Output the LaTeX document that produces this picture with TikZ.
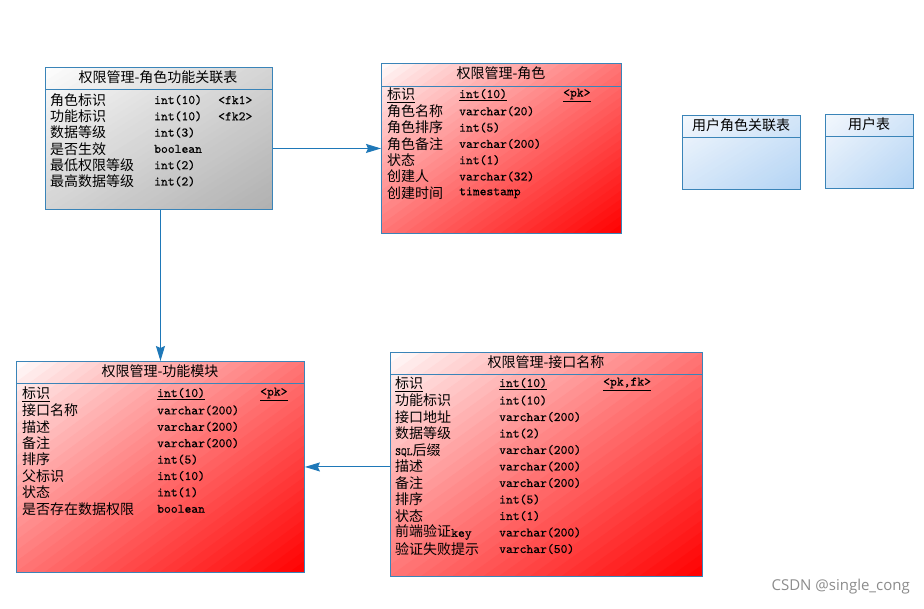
\documentclass[tikz,border=0pt]{standalone}
\usepackage{fontspec}
\setmainfont{Noto Sans CJK SC}
\newfontfamily\wmfont{Open Sans}
\newfontfamily\typefont{lmmono10-regular.otf}[FakeBold=0.4]
\usetikzlibrary{arrows.meta}
\definecolor{bord}{HTML}{3A84B8}
\definecolor{arr}{HTML}{1E78B8}
\definecolor{grayend}{HTML}{B0B0B0}
\definecolor{blueend}{HTML}{B4D4F4}
\definecolor{bluestart}{HTML}{F4F8FD}
\definecolor{redend}{HTML}{FF0000}
% diagonal gradient: x0, y0, w, h, start colour, end colour, exponent
\newcommand\gradrect[7]{%
  \begin{scope}
    \clip (#1,#2) rectangle ++(#3,#4);
    \foreach \k in {0,...,39}{
      \pgfmathsetmacro\ta{\k/40}
      \pgfmathsetmacro\tb{(\k+1.3)/40}
      \pgfmathsetmacro\f{100*((\k+0.5)/40)^#7}
      \fill[#6!\f!#5] ({#1+2*\ta*#3},#2) -- (#1,{#2+2*\ta*#4}) -- (#1,{#2+2*\tb*#4}) -- ({#1+2*\tb*#3},#2) -- cycle;
    }
  \end{scope}}
\tikzset{
  tbl/.style={draw=bord, line width=0.9pt, rectangle, inner sep=0pt, anchor=north west},
  hline/.style={draw=bord, line width=0.9pt},
  title/.style={inner sep=0pt, font=\fontsize{14}{16}\selectfont},
  cname/.style={anchor=west, inner sep=0pt, font=\fontsize{14}{16}\selectfont},
  ctype/.style={anchor=west, inner sep=0pt, font=\fontsize{13}{15}\selectfont\typefont},
  conn/.style={draw=arr, line width=1pt, -{Stealth[length=15pt,width=9pt,inset=2pt]}},
}
\begin{document}
\begin{tikzpicture}[x=1pt,y=-1pt]
\useasboundingbox (0,0) rectangle (924,608);
\fill[white] (0,0) rectangle (924,608);

% Table 1: 角色功能关联表
\gradrect{45}{67}{227}{142}{white}{grayend}{0.9}
\node[tbl, minimum width=227pt, minimum height=142pt] (t1) at (45,67) {};
\draw[hline] ([yshift=-22pt]t1.north west) -- ([yshift=-22pt]t1.north east);
\node[title] (t1t) at (158,77) {权限管理-角色功能关联表};
\foreach \a/\b/\c [count=\i from 0] in {角色标识/int(10)/<fk1>,功能标识/int(10)/<fk2>,数据等级/int(3)/,是否生效/boolean/,最低权限等级/int(2)/,最高数据等级/int(2)/}{
  \node[cname] (t1n\i) at (50,{100+16.3*\i}) {\a};
  \node[ctype] (t1y\i) at (154,{100+16.3*\i}) {\b};
  \node[ctype] (t1k\i) at (218,{100+16.3*\i}) {\c};
}

% Table 2: 角色
\gradrect{381}{63}{240}{170}{white}{redend}{0.9}
\node[tbl, minimum width=240pt, minimum height=170pt] (t2) at (381,63) {};
\draw[hline] ([yshift=-23pt]t2.north west) -- ([yshift=-23pt]t2.north east);
\node[title] (t2t) at (501,73) {权限管理-角色};
\node[cname] (t2n0) at (387,95) {\underline{标识}};
\node[ctype] (t2y0) at (459,95) {\underline{int(10)}};
\node[ctype] (t2k0) at (563,95) {\underline{<pk>}};
\foreach \a/\b [count=\i from 1] in {角色名称/varchar(20),角色排序/int(5),角色备注/varchar(200),状态/int(1),创建人/varchar(32),创建时间/timestamp}{
  \node[cname] (t2n\i) at (387,{95+16.3*\i}) {\a};
  \node[ctype] (t2y\i) at (459,{95+16.3*\i}) {\b};
}

% Table 3: 用户角色关联表
\gradrect{682}{115}{118}{74}{bluestart}{blueend}{1}
\node[tbl, minimum width=118pt, minimum height=74pt] (t3) at (682,115) {};
\draw[hline] ([yshift=-22pt]t3.north west) -- ([yshift=-22pt]t3.north east);
\node[title] (t3t) at (741,125) {用户角色关联表};

% Table 4: 用户表
\gradrect{825}{114}{88}{74}{bluestart}{blueend}{1}
\node[tbl, minimum width=88pt, minimum height=74pt] (t4) at (825,114) {};
\draw[hline] ([yshift=-22pt]t4.north west) -- ([yshift=-22pt]t4.north east);
\node[title] (t4t) at (869,124) {用户表};

% Table 5: 功能模块
\gradrect{16}{361}{288}{211}{white}{redend}{0.9}
\node[tbl, minimum width=288pt, minimum height=211pt] (t5) at (16,361) {};
\draw[hline] ([yshift=-22pt]t5.north west) -- ([yshift=-22pt]t5.north east);
\node[title] (t5t) at (160,371) {权限管理-功能模块};
\node[cname] (t5n0) at (22,394) {\underline{标识}};
\node[ctype] (t5y0) at (157,394) {\underline{int(10)}};
\node[ctype] (t5k0) at (260,394) {\underline{<pk>}};
\foreach \a/\b [count=\i from 1] in {接口名称/varchar(200),描述/varchar(200),备注/varchar(200),排序/int(5),父标识/int(10),状态/int(1),是否存在数据权限/boolean}{
  \node[cname] (t5n\i) at (22,{394+16.4*\i}) {\a};
  \node[ctype] (t5y\i) at (157,{394+16.4*\i}) {\b};
}

% Table 6: 接口名称
\gradrect{390}{352}{312}{224}{white}{redend}{0.9}
\node[tbl, minimum width=312pt, minimum height=224pt] (t6) at (390,352) {};
\draw[hline] ([yshift=-22pt]t6.north west) -- ([yshift=-22pt]t6.north east);
\node[title] (t6t) at (546,362) {权限管理-接口名称};
\node[cname] (t6n0) at (395,384) {\underline{标识}};
\node[ctype] (t6y0) at (499,384) {\underline{int(10)}};
\node[ctype] (t6k0) at (603,384) {\underline{<pk,fk>}};
\foreach \a/\b [count=\i from 1] in {功能标识/int(10),接口地址/varchar(200),数据等级/int(2),{{\typefont\fontsize{11}{13}\selectfont SQL}后缀}/varchar(200),描述/varchar(200),备注/varchar(200),排序/int(5),状态/int(1),{前端验证{\typefont\fontsize{13}{15}\selectfont key}}/varchar(200),验证失败提示/varchar(50)}{
  \node[cname] (t6n\i) at (395,{384+16.5*\i}) {\a};
  \node[ctype] (t6y\i) at (499,{384+16.5*\i}) {\b};
}

% Connectors
\draw[conn] ([yshift=-10pt]t1.east) -- (t2.west);
\draw[conn] (t1.south -| t5.north) -- (t5.north);
\draw[conn] (t6.west |- t5.east) -- (t5.east);

% Watermark
\node[anchor=east, inner sep=0pt, text=black!45, font=\wmfont\fontsize{15}{17}\selectfont] (wm) at (910,587) {CSDN @single\_cong};
\end{tikzpicture}
\end{document}
